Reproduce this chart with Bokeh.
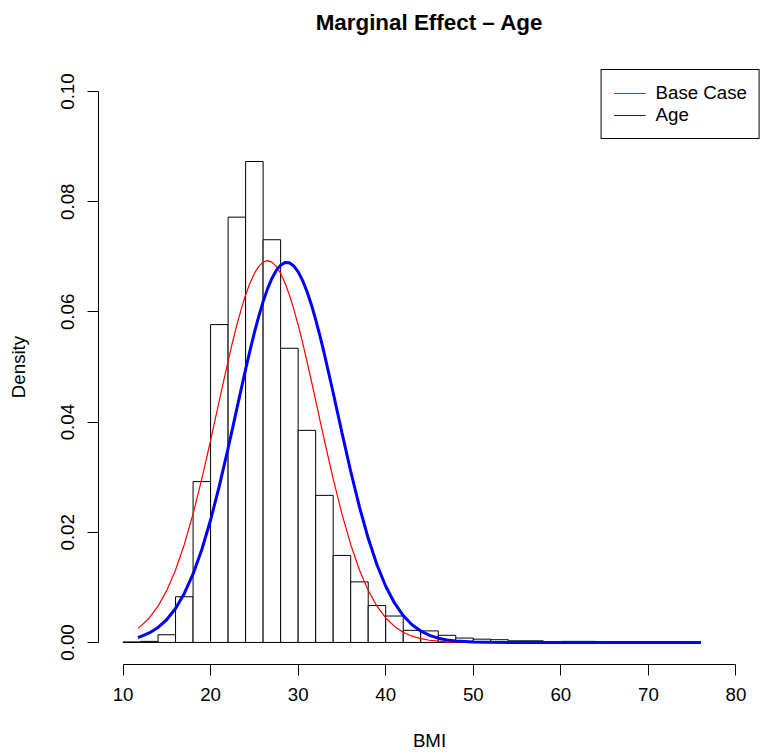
from bokeh.plotting import figure
from bokeh.models import Range1d, FixedTicker, PrintfTickFormatter, LinearAxis
from bokeh.embed import file_html
from bokeh.resources import INLINE

# Histogram of BMI (density scale), bins of width 2
bin_left = [10, 12, 14, 16, 18, 20, 22, 24, 26, 28, 30, 32, 34, 36, 38, 40, 42,
            44, 46, 48, 50, 52, 54, 56, 58, 60, 62, 64, 66, 68, 70, 72, 74]
bin_right = [12, 14, 16, 18, 20, 22, 24, 26, 28, 30, 32, 34, 36, 38, 40, 42, 44,
             46, 48, 50, 52, 54, 56, 58, 60, 62, 64, 66, 68, 70, 72, 74, 76]
density = [0.0001, 0.0002, 0.0014, 0.0083, 0.0292, 0.0577, 0.0772, 0.0873, 0.0731,
           0.0534, 0.0385, 0.0267, 0.0158, 0.0110, 0.0067, 0.0048, 0.0022, 0.0021,
           0.0013, 0.0008, 0.0006, 0.0005, 0.0003, 0.0003, 0.0001, 0.0002, 0.0002,
           0.0001, 0.0, 0.0, 0.0, 0.0, 0.0]

# Fitted density curves
curve_x = [11.7, 12, 13, 14, 15, 16, 17, 18, 19, 20, 21, 22, 22.5, 23, 23.5, 24, 24.5,
           25, 25.5, 26, 26.5, 27, 27.5, 28, 28.5, 29, 29.5, 30, 30.5, 31, 31.5, 32,
           32.5, 33, 34, 35, 36, 37, 38, 39, 40, 41, 42, 43, 44, 45, 46,
           47, 48, 50, 52, 55, 60, 65, 70, 76]
base_case = [0.00256, 0.00292, 0.00445, 0.00658, 0.00945, 0.01316, 0.01779, 0.02333,
             0.02969, 0.03666, 0.04393, 0.05107, 0.05446, 0.05762, 0.06051, 0.06307,
             0.06525, 0.06699, 0.06826, 0.06904, 0.06930, 0.06904, 0.06826, 0.06699,
             0.06525, 0.06307, 0.06051, 0.05762, 0.05446, 0.05107, 0.04755, 0.04393,
             0.04028, 0.03666, 0.02969,
             0.02333, 0.01779, 0.01316, 0.00945, 0.00658, 0.00445, 0.00292, 0.00186,
             0.00114, 0.00069, 0.00040, 0.00023, 0.00012, 0.00007, 0.00002, 0.0,
             0.0, 0.0, 0.0, 0.0, 0.0]
age = [0.00091, 0.00106, 0.00173, 0.00272, 0.00416, 0.00617, 0.00889, 0.01244,
       0.01688, 0.02222, 0.02841, 0.03525, 0.03881, 0.04244, 0.04604, 0.04958,
       0.05299, 0.05622, 0.05920, 0.06187, 0.06418, 0.06608, 0.06753, 0.06850,
       0.06896, 0.06891, 0.06834, 0.06728, 0.06573, 0.06375, 0.06136, 0.05862,
       0.05559, 0.05232, 0.04532,
       0.03810, 0.03108, 0.02461, 0.01891, 0.01411, 0.01020, 0.00717, 0.00489,
       0.00323, 0.00208, 0.00129, 0.00078, 0.00046, 0.00026, 0.00008, 0.00002,
       0.0, 0.0, 0.0, 0.0, 0.0]

x_ticks = [10, 20, 30, 40, 50, 60, 70, 80]
y_ticks = [0.0, 0.02, 0.04, 0.06, 0.08, 0.10]

FONT = "Liberation Sans"
FS = "18.7px"

p = figure(width=760, height=754, output_backend="svg", toolbar_location=None,
           x_range=Range1d(7.2, 82.8), y_range=Range1d(-0.004, 0.104),
           min_border_left=98, min_border_right=0, min_border_top=69,
           min_border_bottom=90)

p.outline_line_color = None
p.background_fill_color = "white"
p.border_fill_color = "white"
p.xgrid.visible = False
p.ygrid.visible = False

xax = p.below[0]
yax = p.left[0]

for ax in (xax, yax):
    ax.axis_line_color = "black"
    ax.major_tick_line_color = "black"
    ax.major_tick_out = 11
    ax.major_tick_in = 0
    ax.minor_tick_line_color = None
    ax.major_label_text_font = FONT
    ax.major_label_text_font_size = FS
    ax.major_label_text_color = "black"
    ax.axis_label_text_font = FONT
    ax.axis_label_text_font_size = FS
    ax.axis_label_text_font_style = "normal"
    ax.axis_label_text_color = "black"

xax.bounds = (10, 80)
xax.ticker = FixedTicker(ticks=x_ticks)
xax.axis_label = "BMI"
xax.major_label_standoff = 12
xax.axis_label_standoff = 26

yax.bounds = (0, 0.1)
yax.ticker = FixedTicker(ticks=y_ticks)
yax.formatter = PrintfTickFormatter(format="%.2f")
yax.major_label_orientation = "vertical"
yax.axis_label = "Density"
yax.major_label_standoff = 13
yax.axis_label_standoff = 30

# main title: label of a bare axis above the frame
title_axis = LinearAxis(ticker=FixedTicker(ticks=[]), axis_line_color=None,
                        major_tick_line_color=None, minor_tick_line_color=None,
                        major_tick_out=0, major_tick_in=0, major_label_standoff=0,
                        axis_label="Marginal Effect \u2013 Age",
                        axis_label_text_font=FONT, axis_label_text_font_size="22.4px",
                        axis_label_text_font_style="bold", axis_label_text_color="black",
                        axis_label_standoff=35)
p.add_layout(title_axis, "above")

p.quad(left=bin_left, right=bin_right, bottom=0, top=density,
       fill_color="white", line_color="black", line_width=1)

p.line(curve_x, base_case, line_color="red", line_width=1.2)
p.line(curve_x, age, line_color="blue", line_width=3)

# thin legend samples (the legend shows thin lines for both); drawn off-range
p.segment(x0=[-100], y0=[0], x1=[-99], y1=[0], line_color="red", line_width=1.2,
          line_alpha=1.0, legend_label="Base Case")
p.segment(x0=[-100], y0=[0], x1=[-99], y1=[0], line_color="blue", line_width=1.2,
          line_alpha=1.0, legend_label="Age")

legend = p.legend[0]
legend.location = "top_right"
legend.margin = 0
legend.border_line_color = "black"
legend.border_line_width = 1
legend.border_line_alpha = 1
legend.background_fill_color = "white"
legend.background_fill_alpha = 1
legend.label_text_font = FONT
legend.label_text_font_size = FS
legend.label_text_color = "black"
legend.label_height = 22
legend.glyph_height = 22
legend.glyph_width = 32
legend.label_standoff = 10
legend.spacing = 0
legend.padding = 12

open("out.html", "w").write(file_html(p, INLINE))
